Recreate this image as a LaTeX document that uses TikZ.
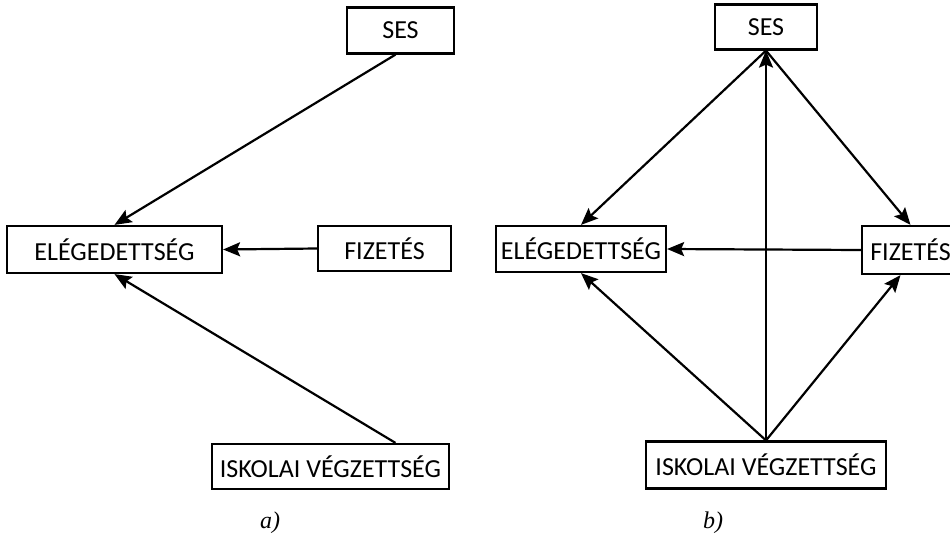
\documentclass[tikz,border=0pt]{standalone}
\usepackage{fontspec}
\setmainfont{Carlito}
\newfontfamily\labfont{Liberation Serif}
\usetikzlibrary{arrows.meta,calc}
\tikzset{
  box/.style={draw, line width=2.2pt, rectangle, inner sep=0pt, font=\fontsize{26}{30}\selectfont},
  conn/.style={line width=2.2pt, -{Stealth[length=17pt,width=14pt,inset=3pt]}},
  lab/.style={font=\labfont\itshape\fontsize{24}{28}\selectfont}
}
\begin{document}
\begin{tikzpicture}[x=1pt,y=-1pt]
\useasboundingbox (0,0) rectangle (950,538);
\clip (0,0) rectangle (950,538);
% panel a
\node[box, minimum width=107, minimum height=46] (sesA) at (400.5,30.5) {SES};
\node[box, minimum width=215, minimum height=47] (eleA) at (114.5,249.5) {ELÉGEDETTSÉG};
\node[box, minimum width=133, minimum height=45] (fizA) at (384.5,248.5) {FIZETÉS};
\node[box, minimum width=237, minimum height=45] (iskA) at (330.5,466.5) {ISKOLAI VÉGZETTSÉG};
\coordinate (sesAbot) at ($(sesA.south)+(-5,0)$);
\coordinate (iskAtop) at (sesAbot |- iskA.north);
\draw[conn] (sesAbot) -- (eleA.north);
\draw[conn] (fizA.west) -- (eleA.east);
\draw[conn] (iskAtop) -- (eleA.south);
\node[lab] (la) at (270,523) {a)};
% panel b
\node[box, minimum width=102, minimum height=45] (sesB) at (766,27) {SES};
\node[box, minimum width=170, minimum height=46] (eleB) at (581,249) {ELÉGEDETTSÉG};
\node[box, minimum width=97, minimum height=48] (fizB) at (910.5,250) {FIZETÉS};
\node[box, minimum width=240, minimum height=47] (iskB) at (766,465) {ISKOLAI VÉGZETTSÉG};
\coordinate (fizBbot) at ($(fizB.south)+(-10,0)$);
\draw[conn] (sesB.south) -- (eleB.north);
\draw[conn] (sesB.south) -- (fizB.north);
\draw[conn] (iskB.north) -- (sesB.south);
\draw[conn] (iskB.north) -- (eleB.south);
\draw[conn] (iskB.north) -- (fizBbot);
\draw[conn] (fizB.west) -- (eleB.east);
\node[lab] (lb) at (713,523) {b)};
\end{tikzpicture}
\end{document}
